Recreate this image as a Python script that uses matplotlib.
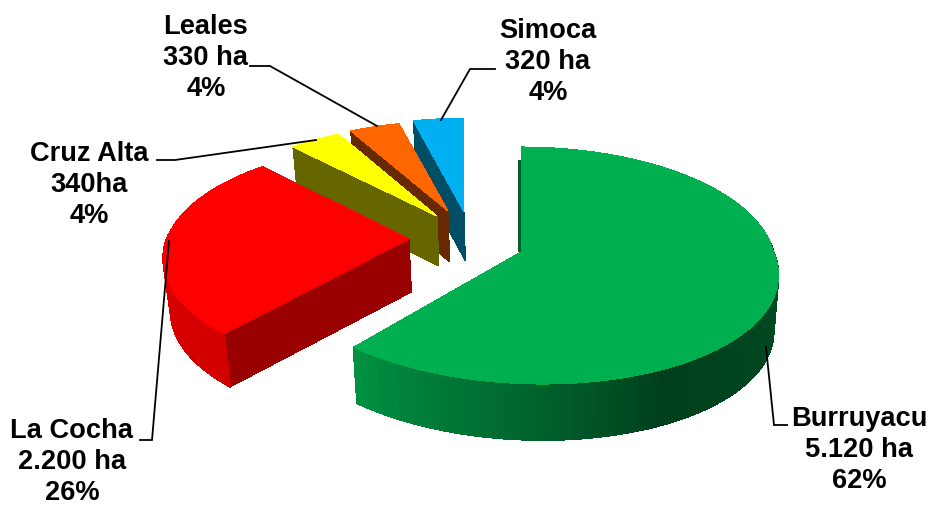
import numpy as np
import matplotlib
matplotlib.use("Agg")
import matplotlib.pyplot as plt
from matplotlib.patches import Polygon

plt.rcParams['font.family'] = ['Liberation Sans', 'DejaVu Sans']

names = ['Burruyacu', 'La Cocha', 'Cruz Alta', 'Leales', 'Simoca']
hectares = [5120, 2200, 340, 330, 320]
label_texts = ['Burruyacu\n5.120 ha\n62%', 'La Cocha\n2.200 ha\n26%', 'Cruz Alta\n340ha\n4%',
               'Leales\n330 ha\n4%', 'Simoca\n320 ha\n4%']
top_colors = ['#00B050', '#FF0000', '#FFFF00', '#FF6600', '#00B0F0']
face_colors = ['#00602C', '#990000', '#666600', '#662900', '#004D66']

# where each exploded slice ended up, in pixels
apex_x = [521, 409, 437, 448, 464]
apex_y = [253, 240, 217, 212, 213]
depth = [56, 53, 50, 51, 49]
scale = [0.99, 0.95, 0.9, 0.89, 0.92]
squash = [1.01, 1.0, 0.97, 0.96, 0.97]
persp = [0.114, 0.17, 0.114, 0.114, 0.114]
near_shift = [22, 0, 0, 0, 0]

label_x = [859, 72, 89, 206, 548]
label_y = [450, 462, 185, 58, 62]
leader_x = [[766, 774, 787], [169, 152, 140], [316, 175, 157], [377, 270, 250], [441, 470, 495]]
leader_y = [[348, 426, 426], [242, 441, 441], [141, 161, 161], [127, 67, 67], [121, 70, 70]]

# brightness of the rim against the angle round the pie
rim_angle = [85, 155, 180, 221, 272]
rim_light = [0.45, 0.36, 0.55, 0.82, 0.86]


def project(i, theta):
    t = np.radians(theta)
    u, v = np.sin(t), np.cos(t)
    w = 1 + persp[i] * v
    x = apex_x[i] + scale[i] * 255 * u / w + near_shift[i] * np.maximum(0, -v)
    y = apex_y[i] - scale[i] * squash[i] * 117 * v / w
    return x, y


def lower(x, y, i):
    # bottom rim sits a bit narrower than the top one
    return 535 + (x - 535) * 0.98, y + depth[i]


fig = plt.figure(figsize=(9.29, 5.06), dpi=100)
ax = fig.add_axes([0, 0, 1, 1])
ax.set_xlim(0, 929)
ax.set_ylim(506, 0)
ax.axis('off')

total = sum(hectares)
edges = np.concatenate([[0], np.cumsum(hectares) / total * 360])

for i in [4, 3, 2, 1, 0]:
    a0, a1 = edges[i], edges[i + 1]
    ax_, ay_ = apex_x[i], apex_y[i]
    base = np.array(matplotlib.colors.to_rgb(top_colors[i]))

    # cut face on the start edge
    sx, sy = project(i, a0)
    if i == 0:
        px = ax_ + (sx - ax_) * 0.88
        py = ay_ + (sy - ay_) * 0.88
        pts = [(px, py), (ax_, ay_), (ax_ - 3, ay_), (px - 3, py)]
    else:
        lx, ly = lower(sx, sy, i)
        bx, by = lower(ax_, ay_, i)
        pts = [(sx, sy), (ax_, ay_), (bx, by), (lx, ly)]
    ax.add_patch(Polygon(pts, closed=True, fc=face_colors[i], ec='none', antialiased=False))

    # rim, cut in thin strips for the shading
    lo, hi = max(a0, 85), min(a1, 272)
    if hi > lo:
        th = np.linspace(lo, hi, 90)
        for a, b in zip(th[:-1], th[1:]):
            x, y = project(i, np.array([a, b]))
            lx, ly = lower(x, y, i)
            c = base * np.interp((a + b) / 2, rim_angle, rim_light)
            ax.add_patch(Polygon([(x[0], y[0]), (x[1], y[1]), (lx[1], ly[1]), (lx[0], ly[0])],
                                 closed=True, fc=c, ec=c, lw=0.6, antialiased=False))

    # top
    th = np.linspace(a0, a1, 160)
    x, y = project(i, th)
    pts = np.column_stack([np.r_[ax_, x], np.r_[ay_, y]])
    ax.add_patch(Polygon(pts, closed=True, fc=top_colors[i], ec='none', antialiased=False))

for i in range(5):
    ax.plot(leader_x[i], leader_y[i], color='black', lw=1.3, solid_joinstyle='miter')
    ax.text(label_x[i], label_y[i], label_texts[i], ha='center', va='center',
            fontsize=19.6, fontweight='bold', linespacing=1.26)

fig.savefig('out.png', dpi=100)
